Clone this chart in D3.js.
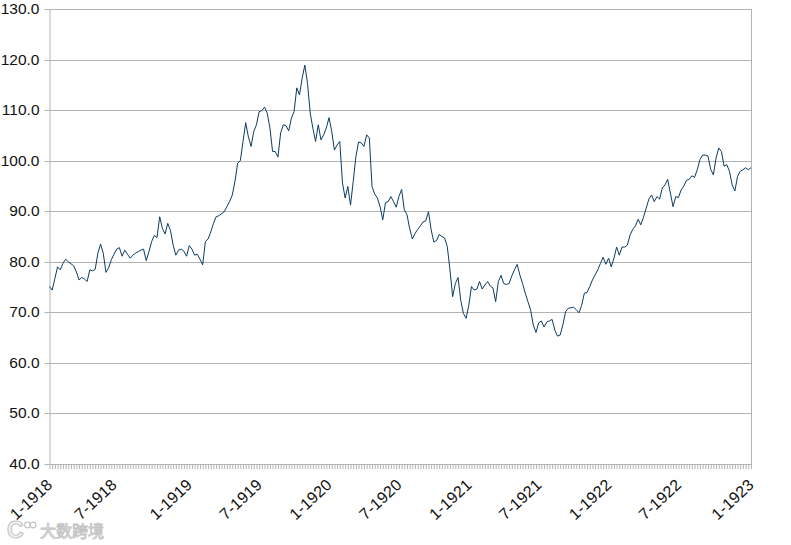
<!DOCTYPE html>
<html><head><meta charset="utf-8">
<script src="https://cdn.jsdelivr.net/npm/d3@7/dist/d3.min.js"></script>
<style>html,body{margin:0;padding:0;background:#fff}svg{display:block}</style>
</head><body><svg id="c" width="791" height="545"></svg>
<script>
const values = [75.2,74.5,76.8,79.1,78.5,79.8,80.6,80.1,79.7,79.3,78.1,76.5,77,76.7,76.2,78.5,78.3,78.6,81.8,83.6,81.8,78,78.9,80.5,81.6,82.6,82.9,81.2,82.4,81.6,80.8,81.4,81.8,82.1,82.4,82.6,80.3,82.1,84.1,85.3,84.9,89,86.7,85.6,87.7,86.3,83.4,81.4,82.4,82.6,82.2,81.2,83.3,82.6,81.4,81.6,80.6,79.5,84.1,84.6,86,87.7,89,89.2,89.6,90,91,92,93.3,96,99.6,100.1,103.9,107.6,104.8,102.9,105.9,107.2,109.8,110,110.7,109.5,106.6,101.9,101.9,100.8,105.6,107.2,107,106,108.5,109.8,114.5,113.1,116.4,119,115.4,109.5,106.5,103.9,107.2,104.2,105.2,106.6,108.6,105.9,102.2,103.2,103.9,95.7,92.7,95,91.3,96,100.9,103.8,103.6,102.9,105.2,104.6,95,93.5,92.7,91,88.4,91.8,92,93,92,90.9,93,94.4,90.4,89.4,86.7,84.6,85.7,86.5,87.2,88,88.2,90,86.4,84,84.3,85.5,85.1,84.8,83.1,78.5,73.2,75.8,77,72.5,69.9,68.9,71.5,75.2,74.5,74.7,76.2,74.7,75.5,76.2,75.3,74.9,72.2,76.2,77.4,75.8,75.6,75.8,77.3,78.5,79.6,77.5,75.8,73.9,72.2,70.6,67.6,66.1,68,68.4,67.2,68.2,68.4,68.7,66.6,65.4,65.6,67.6,70.2,70.9,71,71.1,70.6,70,71.5,73.9,74,75.2,76.5,77.5,78.5,79.8,81,79.6,80.8,79.1,80.8,83,81.4,83,83,83.4,85.4,86.5,87.2,88.5,87.4,88.9,90.7,92.5,93.3,92,93,92.5,94.7,95.3,96.4,93.7,91,93,92.8,94.3,95.1,96.2,96.4,97.1,96.8,98.3,100.3,101.2,101.2,101,98.4,97.3,100.6,102.6,101.9,99,99.3,98,95.3,94.1,97,98,98.3,98.7,98.3,98.7];
const yTicks = [40,50,60,70,80,90,100,110,120,130];
const xLabels = ["1-1918","7-1918","1-1919","7-1919","1-1920","7-1920","1-1921","7-1921","1-1922","7-1922","1-1923"];
const xLabelWeeks = [0,24,52,78,104,130,156,182,208,234,261];
const watermark = "大数跨境";

const svg = d3.select("#c");
const x = d3.scaleLinear().domain([0,values.length-1]).range([49.5,751]);
const y = d3.scaleLinear().domain([40,130]).range([464.5,9.5]);
const yR = d3.scaleLinear().domain([40,130]).rangeRound([464,9]);
const gray = "#b3b3b3", font = "'Liberation Sans',Arial,sans-serif";

// horizontal grid
svg.append("g").selectAll("line").data(yTicks).join("line")
  .attr("x1",49.5).attr("x2",751).attr("y1",d=>yR(d)+.5).attr("y2",d=>yR(d)+.5)
  .attr("stroke",gray);
// right border
svg.append("line").attr("x1",751.5).attr("x2",751.5).attr("y1",9).attr("y2",465).attr("stroke",gray);

// y axis
const yA = svg.append("g").attr("transform","translate(49.5,0)")
  .call(d3.axisLeft(yR).tickValues(yTicks).tickSize(5).tickPadding(5).tickSizeOuter(0).tickFormat(d3.format(".1f")));
yA.selectAll("path,line").attr("stroke",gray);
yA.selectAll("text").attr("font-family",font).attr("font-size",15.5).attr("fill","#111");

// x axis: weekly ticks
const xA = svg.append("g").attr("transform","translate(0,464)")
  .call(d3.axisBottom(x).tickValues(d3.range(values.length)).tickSize(5).tickSizeOuter(0).tickFormat(""));
xA.selectAll("path,line").attr("stroke",gray);

// rotated labels
svg.append("g").selectAll("text").data(xLabels).join("text")
  .attr("transform",(d,i)=>`translate(${x(xLabelWeeks[i])+4},486) rotate(-43)`)
  .attr("text-anchor","end").attr("font-family",font).attr("font-size",16).attr("letter-spacing",.2).attr("fill","#111")
  .text(d=>d);

// series
svg.append("path").datum(values)
  .attr("fill","none").attr("stroke","#0b3c63").attr("stroke-width",1)
  .attr("d",d3.line().x((d,i)=>x(i)).y(d=>y(d)));

// watermark
const wm = svg.append("g");
wm.append("text").attr("x",40).attr("y",537).attr("font-family","'Noto Sans CJK SC'").attr("font-size",16)
  .attr("fill","#f4f4f4").attr("stroke","#c4c4c4").attr("stroke-width",.9).text(watermark);
wm.append("text").attr("x",7).attr("y",538).attr("font-family",font).attr("font-size",23).attr("font-weight","bold")
  .attr("fill","#f4f4f4").attr("stroke","#c4c4c4").attr("stroke-width",1.1).text("C");
wm.selectAll("circle").data([27.5,33]).join("circle").attr("cx",d=>d).attr("cy",525).attr("r",2.8)
  .attr("fill","#fff").attr("stroke","#c4c4c4").attr("stroke-width",1.2);
</script></body></html>
